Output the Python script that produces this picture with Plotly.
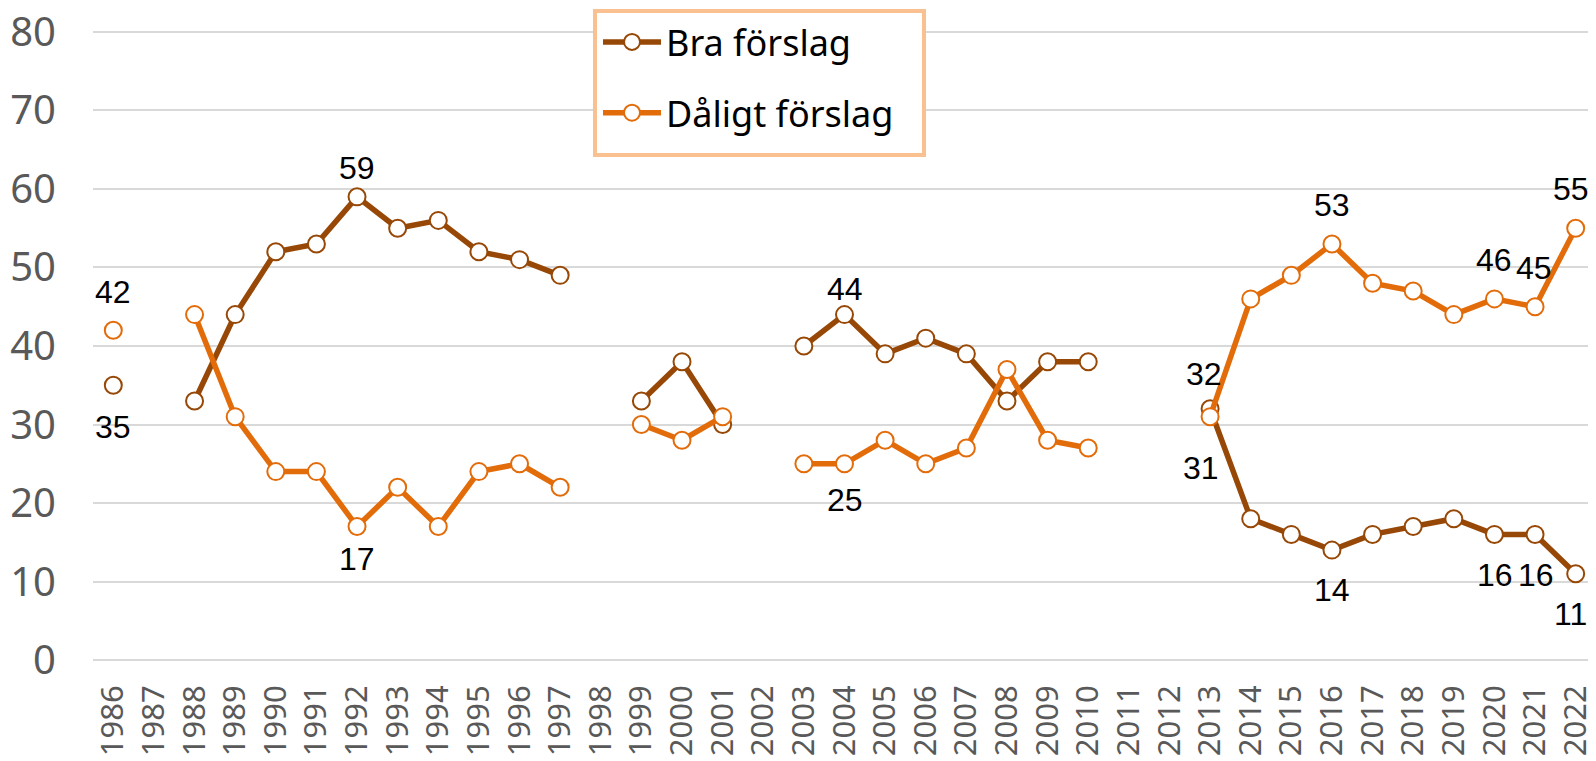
import plotly.graph_objects as go

years = list(range(1986, 2023))
bra = [35, None, 33, 44, 52, 53, 59, 55, 56, 52, 51, 49, None, 33, 38, 30, None,
       40, 44, 39, 41, 39, 33, 38, 38, None, None, 32, 18, 16, 14, 16, 17, 18, 16, 16, 11]
daligt = [42, None, 44, 31, 24, 24, 17, 22, 17, 24, 25, 22, None, 30, 28, 31, None,
          25, 25, 28, 25, 27, 37, 28, 27, None, None, 31, 46, 49, 53, 48, 47, 44, 46, 45, 55]

names = ["Bra förslag", "Dåligt förslag"]
colors = ["#974806", "#E36C0A"]
yticks = [0, 10, 20, 30, 40, 50, 60, 70, 80]

# labelled points: (series index, year, x shift px, y shift px)
labels = [
    (1, 1986, 0, 38), (0, 1986, 0, -42),
    (0, 1992, 0, 29), (1, 1992, 0, -32),
    (0, 2004, 0, 26), (1, 2004, 0, -36),
    (0, 2013, -6, 35), (1, 2013, -9, -51),
    (1, 2016, 0, 39), (0, 2016, 0, -40),
    (1, 2020, 0, 39), (1, 2021, -1, 39), (1, 2022, -5, 39),
    (0, 2020, 1, -41), (0, 2021, 1, -41), (0, 2022, -5, -40),
]

fig = go.Figure()
for i, vals in enumerate([bra, daligt]):
    fig.add_trace(go.Scatter(
        x=years, y=vals, name=names[i], mode="lines+markers",
        connectgaps=False, legendgroup=f"g{i}",
        line=dict(color=colors[i], width=5.5),
        marker=dict(size=17, color="white", line=dict(color=colors[i], width=2)),
    ))

series = [bra, daligt]
for s, yr, dx, dy in labels:
    v = series[s][years.index(yr)]
    fig.add_annotation(x=yr, y=v, text=str(v), showarrow=False,
                       xshift=dx, yshift=dy, xanchor="center", yanchor="middle",
                       font=dict(family="Liberation Sans, Arial", size=32, color="black"))

# legend frame (svg pixel box converted to paper coords of the plot area)
plot_top, plot_h = 22.0, 632.0
def py(px):
    return (plot_top + plot_h - px) / plot_h
fig.add_shape(type="rect", xref="paper", yref="paper",
              x0=0.334, x1=0.5529, y0=py(147), y1=py(3),
              line=dict(color="#FAC090", width=4), fillcolor="white", layer="above")

fig.update_layout(
    width=1588, height=753,
    margin=dict(l=85, r=0, t=22, b=99, autoexpand=False),
    plot_bgcolor="white", paper_bgcolor="white",
    showlegend=True,
    legend=dict(
        x=0.336, y=py(4), xanchor="left", yanchor="top",
        font=dict(family="Noto Sans", size=36, color="black"),
        borderwidth=0, bgcolor="rgba(0,0,0,0)",
        tracegroupgap=21, itemwidth=58,
    ),
    xaxis=dict(
        range=[1985.5, 2022.5], tickmode="array", tickvals=years,
        ticktext=[str(y) for y in years], tickangle=-90,
        tickfont=dict(family="Noto Sans", size=31, color="#595959"),
        showgrid=False, zeroline=False, showline=False, ticks="",
        ticklabelstandoff=16, automargin=False,
    ),
    yaxis=dict(
        range=[-0.25, 80.25], tickmode="array", tickvals=yticks,
        ticktext=[str(t) for t in yticks],
        tickfont=dict(family="Noto Sans", size=40, color="#595959"),
        showgrid=True, gridcolor="#D9D9D9", gridwidth=2,
        zeroline=False, showline=False, ticks="",
        ticklabelstandoff=36, automargin=False, ticklabeloverflow="allow",
    ),
)

fig.write_html("out.html")
